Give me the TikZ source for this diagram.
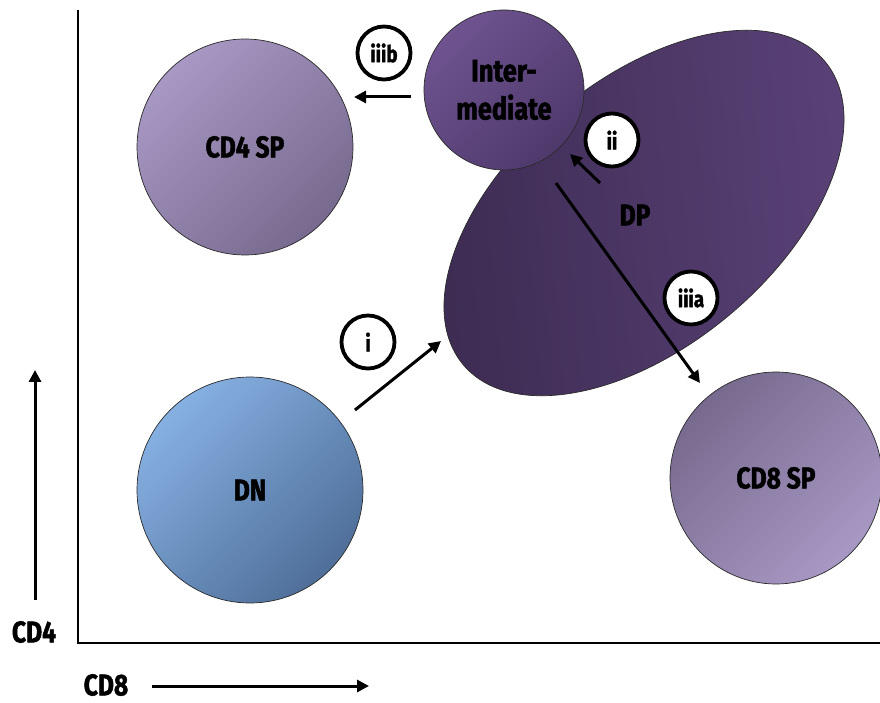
\documentclass[tikz,border=0pt]{standalone}
\usepackage{fontspec}
\setmainfont{Fira Sans}[FakeStretch=0.82,BoldFeatures={FakeBold=1.6}]
\usetikzlibrary{arrows.meta,shapes.geometric}
\definecolor{dpA}{HTML}{3C2B51}
\definecolor{dpB}{HTML}{5B4279}
\definecolor{inA}{HTML}{6E5390}
\definecolor{inB}{HTML}{4E396B}
\definecolor{cdL}{HTML}{A898C4}
\definecolor{cdD}{HTML}{776A8E}
\definecolor{dnL}{HTML}{86B0E2}
\definecolor{dnD}{HTML}{4F6F99}
\definecolor{edge}{HTML}{2A2A2A}
\begin{document}
\begin{tikzpicture}[x=1pt,y=1pt,
  cell/.style={circle,draw=edge,line width=0.7pt,inner sep=0pt,font=\fontsize{30}{32}\selectfont\bfseries,text=black},
  tag/.style={circle,draw=black,line width=3.8pt,fill=white,minimum size=53pt,inner sep=0pt,font=\fontsize{23}{24}\selectfont\bfseries},
  flow/.style={line width=3pt,-{Triangle[length=12pt,width=12pt]}},
  axislbl/.style={inner sep=0pt,font=\fontsize{30}{32}\selectfont\bfseries}]
\useasboundingbox (0,0) rectangle (880,702);
% axes
\coordinate (ytop) at (78,692);
\coordinate (orig) at (78,59);
\coordinate (xend) at (880,59);
\draw[line width=1.8pt] (ytop) -- (orig) -- (xend);
% DP ellipse
\node[ellipse,draw=edge,line width=0.7pt,minimum width=472pt,minimum height=266pt,rotate=40,
      top color=dpB,bottom color=dpA,shading angle=-85] (dp) at (644,489) {};
\node[font=\fontsize{30}{32}\selectfont\bfseries] (dplbl) at (635,487) {DP};
% circles
\node[cell,minimum size=216pt,top color=cdL,bottom color=cdD,shading angle=45] (cd4) at (245,555) {CD4 SP};
\node[cell,minimum size=226pt,top color=dnL,bottom color=dnD,shading angle=45] (dn) at (250,212) {DN};
\node[cell,minimum size=212pt,top color=cdD,bottom color=cdL,shading angle=45] (cd8) at (776,224) {CD8 SP};
\node[cell,minimum size=160pt,top color=inA,bottom color=inB,shading angle=45,align=center,
      font=\fontsize{31}{38}\selectfont\bfseries] (inter) at (504,612) {Inter-\\mediate};
% tags
\node[tag] (tiiib) at (384,649) {iiib};
\node[tag] (tii) at (612,562) {ii};
\node[tag] (tiiia) at (691,404) {iiia};
\node[tag] (ti) at (368,360) {i};
% arrows
\coordinate (aS) at (411,605); \coordinate (aE) at (354,605);
\coordinate (bS) at (600,519); \coordinate (bE) at (570,548);
\coordinate (cS) at (556,519); \coordinate (cE) at (700,319);
\coordinate (dS) at (355,292); \coordinate (dE) at (441,361);
\draw[flow] (aS) -- (aE);
\draw[flow] (bS) -- (bE);
\draw[flow] (cS) -- (cE);
\draw[flow] (dS) -- (dE);
% axis arrows and labels
\coordinate (yS) at (35,102); \coordinate (yE) at (35,332);
\coordinate (xS) at (152,16); \coordinate (xE) at (369,16);
\draw[flow] (yS) -- (yE);
\draw[flow] (xS) -- (xE);
\node[axislbl] (cd4lbl) at (34,70) {CD4};
\node[axislbl] (cd8lbl) at (106,17) {CD8};
\end{tikzpicture}
\end{document}
